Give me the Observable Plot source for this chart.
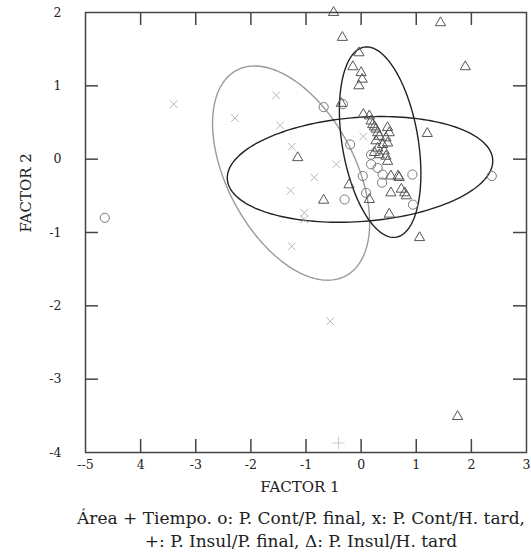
<!DOCTYPE html>
<html><head><meta charset="utf-8">
<script src="https://cdn.jsdelivr.net/npm/d3@7"></script>
<script src="https://cdn.jsdelivr.net/npm/@observablehq/plot@0.6"></script>
<style>
html,body{margin:0;padding:0;background:#fff;overflow:hidden;width:531px;height:554px}
#chart{position:relative;width:531px;height:554px}
.cap{position:absolute;left:301px;transform:translateX(-50%);white-space:nowrap;font-family:"DejaVu Serif",serif;font-size:17px;color:#222;line-height:20px}
</style></head>
<body><div id="chart"></div>
<script>
// Tick values and labels (as printed in the original)
const xTicks = [-5, -4, -3, -2, -1, 0, 1, 2, 3];
const xTickLabels = ["--5", "4", "-3", "-2", "-1", "0", "1", "2", "3"];
const yTicks = [2, 1, 0, -1, -2, -3, -4];
const yTickLabels = ["2", "1", "0", "-1", "-2", "-3", "-4"];

// o: P. Cont/P. final
const circleX = [-4.65, -0.68, -0.33, -0.20, 0.18, 0.18, 0.30, 0.39, 0.38, 0.03, 0.09, 0.93, -0.30, 0.94, 2.37];
const circleY = [-0.80, 0.71, 0.75, 0.20, 0.06, -0.07, -0.12, -0.21, -0.32, -0.23, -0.46, -0.21, -0.55, -0.62, -0.23];
// x: P. Cont/H. tard
const crossX = [-3.40, -2.29, -1.54, -1.47, -1.26, -1.28, -1.03, -1.03, -1.26, -0.56, 0.04, -0.45, -0.85];
const crossY = [0.75, 0.56, 0.87, 0.46, 0.17, -0.43, -0.73, -0.82, -1.19, -2.21, 0.31, -0.07, -0.25];
// +: P. Insul/P. final
const plusX = [-0.41];
const plusY = [-3.87];
// Δ: P. Insul/H. tard
const triX = [-0.50, 1.44, -0.34, 1.89, -0.04, -0.15, 0.00, 0.02, -0.04, -0.36, -1.15, 1.20, 1.06, 1.75,
  0.04, 0.15, 0.18, 0.21, 0.24, 0.27, 0.30, 0.48, 0.51, 0.33, 0.45, 0.27, 0.39, 0.48, 0.30, 0.42, 0.24, 0.33, 0.45, 0.48,
  0.54, 0.67, 0.69, 0.54, 0.73, 0.79, 0.82, -0.22, 0.15, -0.68, 0.51];
const triY = [2.00, 1.86, 1.66, 1.26, 1.45, 1.26, 1.18, 1.09, 1.00, 0.76, 0.02, 0.35, -1.07, -3.51,
  0.61, 0.59, 0.52, 0.47, 0.44, 0.41, 0.36, 0.43, 0.36, 0.31, 0.29, 0.25, 0.20, 0.22, 0.15, 0.11, 0.09, 0.06, 0.04, -0.03,
  -0.23, -0.23, -0.25, -0.46, -0.41, -0.46, -0.50, -0.35, -0.55, -0.56, -0.75];

// Confidence ellipses: centre and two conjugate semi-axis vectors (data units)
const ellipseNames = ["P. Cont/H. tard", "P. Cont/P. final", "P. Insul/H. tard"];
const ellipseCx = [-1.27, -0.02, 0.345];
const ellipseCy = [-0.19, -0.14, 0.232];
const ellipseUx = [0.989, 2.407, -0.290];
const ellipseUy = [-1.402, 0.136, 1.296];
const ellipseVx = [1.026, 0.071, 0.680];
const ellipseVy = [0.409, -0.708, 0.086];

const pts = (xs, ys) => xs.map((x, i) => ({x, y: ys[i]}));
const ellipsePts = [];
ellipseNames.forEach((name, k) => {
  for (let i = 0; i <= 180; i++) {
    const t = (i / 180) * 2 * Math.PI;
    ellipsePts.push({
      e: name,
      x: ellipseCx[k] + ellipseUx[k] * Math.cos(t) + ellipseVx[k] * Math.sin(t),
      y: ellipseCy[k] + ellipseUy[k] * Math.cos(t) + ellipseVy[k] * Math.sin(t)
    });
  }
});

const W = 531, H = 500, mL = 85, mR = 5, mT = 12, mB = 48;
const innerW = W - mL - mR, innerH = H - mT - mB, tick = 13;

const chart = Plot.plot({
  width: W, height: H,
  marginLeft: mL, marginRight: mR, marginTop: mT, marginBottom: mB,
  style: {fontFamily: "DejaVu Serif, serif", fontSize: "12px", color: "#222", background: "#fff"},
  x: {domain: [-5, 3], label: null},
  y: {domain: [-4, 2], label: null},
  marks: [
    Plot.line(ellipsePts, {x: "x", y: "y", z: "e", stroke: d => d.e,
      strokeWidth: 1.4}),
    Plot.dot(pts(crossX, crossY), {x: "x", y: "y", symbol: "times", r: 3.6, stroke: "#b8b8b8", strokeWidth: 1}),
    Plot.dot(pts(plusX, plusY), {x: "x", y: "y", symbol: "plus", r: 4, stroke: "#cccccc", strokeWidth: 1}),
    Plot.dot(pts(circleX, circleY), {x: "x", y: "y", symbol: "circle", r: 4.6, stroke: "#7a7a7a", strokeWidth: 1, fill: "none"}),
    Plot.dot(pts(triX, triY), {x: "x", y: "y", symbol: "triangle", r: 3.8, stroke: "#555", strokeWidth: 1, fill: "none"}),
    Plot.ruleX(xTicks.slice(1, -1), {stroke: "#444", strokeWidth: 1.5, insetTop: innerH - tick}),
    Plot.ruleX(xTicks.slice(1, -1), {stroke: "#444", strokeWidth: 1.5, insetBottom: innerH - tick}),
    Plot.ruleY(yTicks.slice(1, -1), {stroke: "#444", strokeWidth: 1.5, insetRight: innerW - tick}),
    Plot.ruleY(yTicks.slice(1, -1), {stroke: "#444", strokeWidth: 1.5, insetLeft: innerW - tick}),
    Plot.frame({stroke: "#444", strokeWidth: 1.5}),
    Plot.axisX(xTicks, {tickSize: 0, tickPadding: 8, fontSize: 12.5, fill: "#222",
      tickFormat: d => xTickLabels[xTicks.indexOf(d)], label: null}),
    Plot.axisY(yTicks, {tickSize: 0, tickPadding: 24, fontSize: 12.5, fill: "#222",
      tickFormat: d => yTickLabels[yTicks.indexOf(d)], label: null}),
    Plot.text(["FACTOR 1"], {frameAnchor: "bottom", dx: -6, dy: 39, fontSize: 15, fill: "#222"}),
    Plot.text(["FACTOR 2"], {frameAnchor: "left", dx: -59, rotate: -90, fontSize: 15, fill: "#222"})
  ],
  color: {domain: ellipseNames, range: ["#9a9a9a", "#222", "#222"]}
});
document.getElementById("chart").appendChild(chart);

const cap1 = document.createElement("div");
cap1.className = "cap"; cap1.style.top = "508px";
cap1.textContent = "Área + Tiempo. o: P. Cont/P. final, x: P. Cont/H. tard,";
const cap2 = document.createElement("div");
cap2.className = "cap"; cap2.style.top = "531px";
cap2.textContent = "+: P. Insul/P. final, Δ: P. Insul/H. tard";
document.getElementById("chart").append(cap1, cap2);
</script></body></html>
